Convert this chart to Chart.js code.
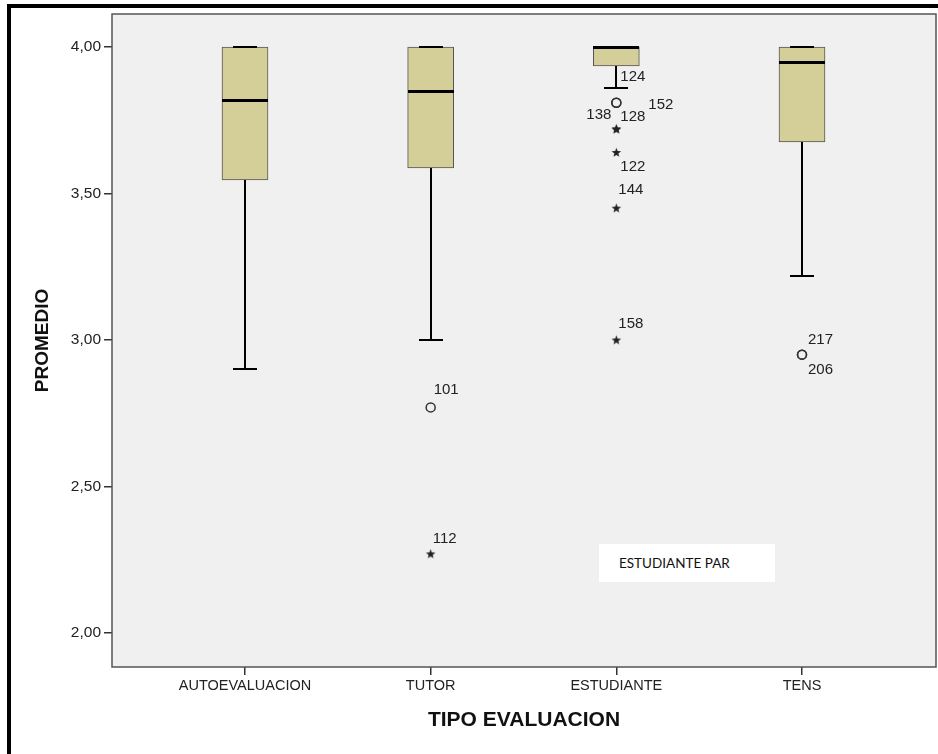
<!DOCTYPE html>
<html>
<head>
<meta charset="utf-8">
<script src="https://cdn.jsdelivr.net/npm/chart.js@4.4.1/dist/chart.umd.min.js"></script>
<style>
    body { margin: 0; background: #fff; }
    #wrap { position: relative; width: 938px; height: 754px; }
    #frame {
        position: absolute; left: 7px; top: 4px; right: 0; bottom: 0;
        border-left: 4px solid #000; border-top: 4px solid #000;
        pointer-events: none;
    }
    #note {
        position: absolute; left: 599px; top: 544px; width: 176px; height: 38px;
        background: #fff; font-family: Lato, "Open Sans", sans-serif; font-size: 13.5px;
        color: #111; line-height: 38px; padding-left: 20px; box-sizing: border-box;
    }
</style>
</head>
<body>
<div id="wrap">
    <canvas id="chartBox" width="938" height="754"></canvas>
    <div id="frame"></div>
    <div id="note">ESTUDIANTE PAR</div>
</div>
<script>
// categories and box statistics
const categories = ['AUTOEVALUACION', 'TUTOR', 'ESTUDIANTE', 'TENS'];
const whiskerLow = [2.90, 3.00, 3.86, 3.22];
const q1 = [3.546, 3.587, 3.935, 3.676];
const median = [3.82, 3.85, 4.00, 3.95];
const q3 = [4.00, 4.00, 4.00, 4.00];
const whiskerHigh = [4.00, 4.00, 4.00, 4.00];
const yTicks = [2.00, 2.50, 3.00, 3.50, 4.00];

// outlier cases: category index, value, kind, case id
const outlierCat = [1, 1, 2, 2, 2, 2, 2, 2, 2, 3, 3];
const outlierValue = [2.77, 2.27, 3.81, 3.81, 3.72, 3.72, 3.64, 3.45, 3.00, 2.95, 2.95];
const outlierKind = ['o', '*', 'o', 'o', '*', '*', '*', '*', '*', 'o', 'o'];
const outlierId = ['101', '112', '124', '152', '138', '128', '122', '144', '158', '217', '206'];

// label placement next to each outlier (pixels: dx, dy, align)
const labelOffsets = [[3, -18, 'left'], [2, -15, 'left'], [4, -26, 'left'], [32, 2, 'left'],
    [-5, -14, 'right'], [4, -12, 'left'], [4, 14, 'left'], [2, -18, 'left'], [2, -16, 'left'],
    [6, -15, 'left'], [6, 15, 'left']];

const boxWidth = 46;
const capHalf = 12;

// small filled star used for extreme cases
const starImg = document.createElement('canvas');
starImg.width = 11;
starImg.height = 11;
(function () {
    const c = starImg.getContext('2d');
    c.fillStyle = '#222';
    c.beginPath();
    for (let i = 0; i < 10; i++) {
        const r = i % 2 === 0 ? 5 : 2.1;
        const a = -Math.PI / 2 + i * Math.PI / 5;
        const px = 5.5 + r * Math.cos(a), py = 5.8 + r * Math.sin(a);
        if (i === 0) c.moveTo(px, py); else c.lineTo(px, py);
    }
    c.closePath();
    c.fill();
})();

const circles = [];
const stars = [];
outlierValue.forEach((v, i) => {
    const p = { x: outlierCat[i] + 1, y: v, idx: i };
    if (outlierKind[i] === 'o') circles.push(p); else stars.push(p);
});

const boxPlugin = {
    id: 'boxPlugin',
    beforeDraw(chart) {
        const { ctx, chartArea: a } = chart;
        ctx.save();
        ctx.fillStyle = '#f0f0f0';
        ctx.fillRect(a.left, a.top, a.right - a.left, a.bottom - a.top);
        ctx.restore();
    },
    afterDatasetsDraw(chart) {
        const { ctx, scales: { x, y } } = chart;
        ctx.save();
        ctx.strokeStyle = '#000';
        categories.forEach((c, i) => {
            const cx = Math.round(x.getPixelForValue(i + 1));
            // whiskers
            ctx.lineWidth = 2;
            ctx.beginPath();
            ctx.moveTo(cx, y.getPixelForValue(q1[i]));
            ctx.lineTo(cx, y.getPixelForValue(whiskerLow[i]));
            ctx.moveTo(cx, y.getPixelForValue(q3[i]));
            ctx.lineTo(cx, y.getPixelForValue(whiskerHigh[i]));
            ctx.stroke();
            ctx.beginPath();
            const yl = Math.round(y.getPixelForValue(whiskerLow[i]));
            ctx.moveTo(cx - capHalf, yl);
            ctx.lineTo(cx + capHalf, yl);
            const yh = Math.round(y.getPixelForValue(whiskerHigh[i]));
            ctx.moveTo(cx - capHalf, yh);
            ctx.lineTo(cx + capHalf, yh);
            ctx.stroke();
            // median
            ctx.lineWidth = 3;
            ctx.beginPath();
            const ym = Math.round(y.getPixelForValue(median[i]));
            ctx.moveTo(cx - boxWidth / 2, ym + 0.5);
            ctx.lineTo(cx + boxWidth / 2, ym + 0.5);
            ctx.stroke();
        });
        ctx.restore();
    },
    afterDraw(chart) {
        const { ctx, chartArea: a, scales: { x, y } } = chart;
        ctx.save();
        // case labels
        ctx.font = '15px "Liberation Sans", Arial, sans-serif';
        ctx.fillStyle = '#222';
        ctx.textBaseline = 'middle';
        outlierValue.forEach((v, i) => {
            const px = x.getPixelForValue(outlierCat[i] + 1);
            const py = y.getPixelForValue(v);
            const [dx, dy, align] = labelOffsets[i];
            ctx.textAlign = align;
            ctx.fillText(outlierId[i], px + dx, py + dy);
        });
        // plot frame
        ctx.strokeStyle = '#555';
        ctx.lineWidth = 1.5;
        ctx.strokeRect(a.left, a.top, a.right - a.left, a.bottom - a.top);
        ctx.restore();
    }
};

new Chart('chartBox', {
    type: 'bar',
    data: {
        datasets: [{
            type: 'bar',
            data: categories.map((c, i) => ({ x: i + 1, y: [q1[i], q3[i]] })),
            backgroundColor: '#d4cf98',
            borderColor: '#555',
            borderWidth: 1,
            borderSkipped: false,
            barThickness: boxWidth
        }, {
            type: 'scatter',
            data: circles,
            pointStyle: 'circle',
            pointRadius: 4.5,
            pointBorderWidth: 1.5,
            pointBorderColor: '#333',
            pointBackgroundColor: 'rgba(0,0,0,0)'
        }, {
            type: 'scatter',
            data: stars,
            pointStyle: starImg
        }]
    },
    options: {
        responsive: false,
        animation: false,
        layout: { autoPadding: false, padding: { left: 0, top: 14, right: 2, bottom: 0 } },
        plugins: { legend: { display: false }, tooltip: { enabled: false } },
        scales: {
            x: {
                type: 'linear',
                offset: false,
                min: 0.2837,
                max: 4.7217,
                afterBuildTicks: s => { s.ticks = categories.map((c, i) => ({ value: i + 1 })); },
                afterFit: s => { s.height = 87; s.paddingLeft = 0; s.paddingRight = 0; },
                ticks: {
                    callback: v => categories[v - 1],
                    font: { family: '"Liberation Sans", Arial', size: 14.5 },
                    color: '#222',
                    padding: 2,
                    maxRotation: 0,
                    autoSkip: false
                },
                grid: { offset: false, drawOnChartArea: false, drawTicks: true, tickLength: 8, color: '#333', lineWidth: 1.5 },
                border: { display: false },
                title: {
                    display: true,
                    text: 'TIPO EVALUACION',
                    font: { family: '"Liberation Sans", Arial', size: 21, weight: 'bold' },
                    color: '#111',
                    padding: { top: 0, bottom: 21 }
                }
            },
            y: {
                min: 1.884,
                max: 4.1126,
                afterBuildTicks: s => { s.ticks = yTicks.map(v => ({ value: v })); },
                afterFit: s => { s.width = 112; s.paddingTop = 0; s.paddingBottom = 0; },
                ticks: {
                    callback: v => v.toFixed(2).replace('.', ','),
                    font: { family: '"Liberation Sans", Arial', size: 15.5 },
                    color: '#222',
                    padding: 3
                },
                grid: { drawOnChartArea: false, drawTicks: true, tickLength: 8, color: '#333', lineWidth: 1.5 },
                border: { display: false },
                title: {
                    display: true,
                    text: 'PROMEDIO',
                    font: { family: '"Liberation Sans", Arial', size: 19, weight: 'bold' },
                    color: '#111',
                    padding: { top: 31, bottom: 0 }
                }
            }
        }
    },
    plugins: [boxPlugin]
});
</script>
</body>
</html>
